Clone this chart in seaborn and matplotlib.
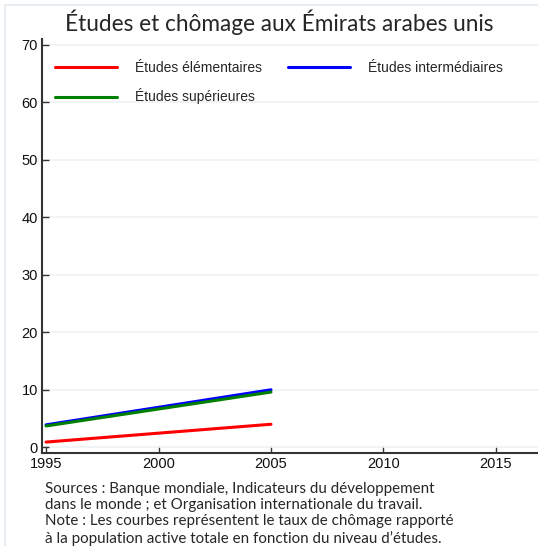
import matplotlib
matplotlib.use("Agg")
import matplotlib.pyplot as plt
import seaborn as sns
import pandas as pd
from matplotlib.patches import Rectangle

years = [1995, 2005]
elementaire = [0.9, 4.0]
intermediaire = [3.9, 10.0]
superieure = [3.7, 9.6]
series_names = ["Études élémentaires", "Études intermédiaires", "Études supérieures"]
colors = ["#ff0000", "#0000ff", "#008000"]

df = pd.DataFrame({
    "Année": years * 3,
    "Taux": elementaire + intermediaire + superieure,
    "Niveau": [series_names[0]] * 2 + [series_names[1]] * 2 + [series_names[2]] * 2,
})

sns.set_style("white")
plt.rcParams["font.family"] = ["Liberation Sans", "DejaVu Sans"]

fig = plt.figure(figsize=(5.38, 5.46), dpi=100)
ax = fig.add_axes([42 / 538, 1 - 453 / 546, 496 / 538, 414 / 546])

sns.lineplot(data=df, x="Année", y="Taux", hue="Niveau", hue_order=series_names,
             palette=colors, linewidth=2.2, ax=ax, legend=True)

ax.set_xlim(1994.82, 2016.87)
ax.set_ylim(-1, 71)
ax.set_xticks([1995, 2000, 2005, 2010, 2015])
ax.set_yticks([0, 10, 20, 30, 40, 50, 60, 70])
ax.set_xlabel("")
ax.set_ylabel("")
ax.tick_params(axis="both", direction="in", length=5, width=1, color="#333333",
               labelsize=10.5, labelcolor="#111111", pad=3, left=True, bottom=True)
ax.yaxis.grid(True, color="#edf2f6", linewidth=1.2)
ax.xaxis.grid(False)
ax.set_axisbelow(True)
for s in ["top", "right"]:
    ax.spines[s].set_visible(False)
for s in ["left", "bottom"]:
    ax.spines[s].set_color("#333333")
    ax.spines[s].set_linewidth(1.5)

handles, labels = ax.get_legend_handles_labels()
order = [0, 2, 1]
leg = ax.legend([handles[i] for i in order], [labels[i] for i in order], ncol=2,
                frameon=False, loc="upper left",
                bbox_to_anchor=(0.0, 0.978), fontsize=10, handlelength=4.5,
                handletextpad=1.3, columnspacing=1.85, labelspacing=1.0)
for line in leg.get_lines():
    line.set_linewidth(2.2)

fig.text(0.519, 0.96, "Études et chômage aux Émirats arabes unis", ha="center", va="center",
         fontsize=16.3, family=["Lato", "DejaVu Sans"])

footer = ("Sources : Banque mondiale, Indicateurs du développement\n"
          "dans le monde ; et Organisation internationale du travail.\n"
          "Note : Les courbes représentent le taux de chômage rapporté\n"
          "à la population active totale en fonction du niveau d’études.")
fig.text(45 / 538, 1 - 482 / 546, footer, ha="left", va="top", fontsize=10.9,
         linespacing=1.2, family=["Lato", "DejaVu Sans"])

fig.patches.append(Rectangle((5 / 538, -0.1), 1.2, 1 - 5 / 546 + 0.1, transform=fig.transFigure,
                             fill=False, edgecolor="#e3e9ef", linewidth=1.2))

fig.savefig("out.png", dpi=100)
